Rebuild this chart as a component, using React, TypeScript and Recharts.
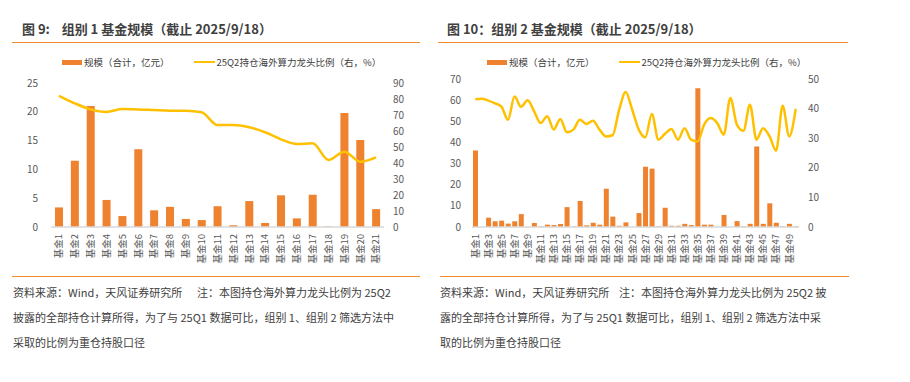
import { Bar, ComposedChart, Line, XAxis, YAxis } from 'recharts';

const ORANGE = '#EE822F';
const GOLD = '#FFC000';
const TEXT = '#404040';
const AXIS_TEXT = '#595959';
const RULE = '#F0892A';
const FONT = '"Noto Sans CJK SC", "Noto Sans", sans-serif';

const group1Funds = Array.from({ length: 21 }, (_, i) => `基金${i + 1}`);
const group1Scale = [
  3.4, 11.5, 21.0, 4.7, 1.9, 13.5, 2.9, 3.5, 1.4, 1.2, 3.6, 0.3, 4.5, 0.7, 5.5,
  1.5, 5.6, 0.1, 19.8, 15.1, 3.1,
];
const group1Ratio = [
  82, 77.3, 73.5, 71.9, 73.7, 73.5, 73.1, 72.7, 72.7, 71.7, 63.7, 63.7, 62.3,
  59.2, 54.8, 51.9, 52.3, 41.9, 47.1, 40.8, 43.5,
];

const group2Funds = Array.from({ length: 50 }, (_, i) => `基金${i + 1}`);
const group2Scale = [
  36.2, 0, 4.4, 2.7, 3.0, 1.6, 2.7, 6.1, 0, 1.9, 0.3, 1.1, 0.9, 1.4, 9.4, 0.2,
  12.3, 0.8, 2.0, 1.1, 18.1, 4.9, 0.6, 2.2, 0, 6.6, 28.5, 27.6, 0.3, 9.1, 0.6,
  0.6, 1.5, 0.9, 65.6, 1.1, 1.1, 0, 5.7, 0, 2.8, 0.3, 1.5, 38.1, 1.5, 11.2, 2.0,
  0.3, 1.5, 0.3,
];
const group2Ratio = [
  43.2, 43.3, 42.7, 41.8, 40.7, 36.2, 44.1, 40.6, 42.8, 39.1, 35.1, 37.4, 32.9,
  36.5, 32.0, 32.9, 36.2, 34.8, 35.9, 32.9, 30.6, 31.0, 39.6, 45.6, 39.6, 32.9,
  30.3, 38.2, 29.5, 31.5, 33.1, 29.5, 33.4, 29.5, 28.9, 34.6, 36.8, 35.1, 31.2,
  43.6, 34.6, 32.5, 41.3, 29.5, 33.4, 30.6, 25.8, 41.0, 30.6, 39.9,
];

const group1LeftTicks = [0, 5, 10, 15, 20, 25];
const group1RightTicks = [0, 10, 20, 30, 40, 50, 60, 70, 80, 90];
const group2LeftTicks = [0, 10, 20, 30, 40, 50, 60, 70];
const group2RightTicks = [0, 10, 20, 30, 40, 50];

const BAR_NAME = '规模（合计，亿元）';
const LINE_NAME = '25Q2持仓海外算力龙头比例（右，%）';

const group1Data = group1Funds.map((name, i) => ({
  name,
  scale: group1Scale[i],
  ratio: group1Ratio[i],
}));
const group2Data = group2Funds.map((name, i) => ({
  name,
  scale: group2Scale[i],
  ratio: group2Ratio[i],
}));

function FundTick({ x, y, payload }: any) {
  return (
    <g transform={`translate(${x},${y})`}>
      <text
        transform="rotate(-90)"
        textAnchor="end"
        dy="0.35em"
        fontSize={9.5}
        fill={AXIS_TEXT}
        fontFamily={FONT}
      >
        {payload.value}
      </text>
    </g>
  );
}

const tickStyle = { fontSize: 10, fill: AXIS_TEXT, fontFamily: FONT };

function LegendRow({ left, top, gap }: { left: number; top: number; gap: number }) {
  return (
    <div
      style={{
        position: 'absolute',
        left,
        top,
        display: 'flex',
        alignItems: 'center',
        fontSize: 9.5,
        color: TEXT,
        fontFamily: FONT,
        whiteSpace: 'nowrap',
      }}
    >
      <span style={{ width: 20, height: 5, background: ORANGE, marginRight: 2 }} />
      <span style={{ marginRight: gap }}>{BAR_NAME}</span>
      <span style={{ width: 21, height: 2.5, background: GOLD, marginRight: 2 }} />
      <span>{LINE_NAME}</span>
    </div>
  );
}

function Title({ left, text }: { left: number; text: string }) {
  return (
    <div
      style={{
        position: 'absolute',
        left,
        top: 20,
        fontSize: 13,
        fontWeight: 700,
        color: TEXT,
        fontFamily: FONT,
        whiteSpace: 'pre',
        lineHeight: '18px',
      }}
    >
      {text}
    </div>
  );
}

function Rule({ left, top, width }: { left: number; top: number; width: number }) {
  return (
    <div
      style={{
        position: 'absolute',
        left,
        top,
        width,
        height: 1.5,
        background: RULE,
      }}
    />
  );
}

function Notes({ left, lines }: { left: number; lines: string[] }) {
  return (
    <div
      style={{
        position: 'absolute',
        left,
        top: 280,
        fontSize: 11,
        color: TEXT,
        fontFamily: FONT,
        lineHeight: '25px',
        whiteSpace: 'pre',
      }}
    >
      {lines.map((line) => (
        <div key={line}>{line}</div>
      ))}
    </div>
  );
}

export default function App() {
  return (
    <div
      style={{
        position: 'absolute',
        left: 0,
        top: 0,
        width: 910,
        height: 382,
        background: '#fff',
        overflow: 'hidden',
      }}
    >
      <Title left={22} text={'图 9:    组别 1 基金规模（截止 2025/9/18）'} />
      <Rule left={12} top={41.5} width={408} />
      <Title left={447} text={'图 10：组别 2 基金规模（截止 2025/9/18）'} />
      <Rule left={438} top={41.5} width={410} />

      <LegendRow left={62} top={55} gap={24} />
      <LegendRow left={487} top={55} gap={24} />

      <div style={{ position: 'absolute', left: 0, top: 0 }}>
        <ComposedChart
          width={430}
          height={270}
          data={group1Data}
          margin={{ top: 83, right: 16, bottom: 5, left: 11 }}
        >
          <XAxis
            dataKey="name"
            interval={0}
            tickLine={false}
            tickSize={6}
            tickMargin={1}
            height={38}
            stroke="#D9D9D9"
            strokeWidth={1.5}
            tick={<FundTick />}
          />
          <YAxis
            yAxisId="left"
            domain={[0, 25]}
            ticks={group1LeftTicks}
            axisLine={false}
            tickLine={false}
            tickMargin={7}
            width={40}
            tick={tickStyle}
          />
          <YAxis
            yAxisId="right"
            orientation="right"
            domain={[0, 90]}
            ticks={group1RightTicks}
            axisLine={false}
            tickLine={false}
            tickMargin={3}
            width={30}
            tick={{ ...tickStyle, textAnchor: 'start' }}
          />
          <Bar
            yAxisId="left"
            dataKey="scale"
            name={BAR_NAME}
            fill={ORANGE}
            barSize={8}
            isAnimationActive={false}
          />
          <Line
            yAxisId="right"
            type="monotone"
            dataKey="ratio"
            name={LINE_NAME}
            stroke={GOLD}
            strokeWidth={2.5}
            dot={false}
            isAnimationActive={false}
          />
        </ComposedChart>
      </div>

      <div style={{ position: 'absolute', left: 430, top: 0 }}>
        <ComposedChart
          width={480}
          height={270}
          data={group2Data}
          margin={{ top: 79, right: 81, bottom: 5, left: 7 }}
          barCategoryGap={1}
        >
          <XAxis
            dataKey="name"
            interval={1}
            tickLine={false}
            tickSize={6}
            tickMargin={1}
            height={38}
            stroke="#D9D9D9"
            strokeWidth={1.5}
            tick={<FundTick />}
          />
          <YAxis
            yAxisId="left"
            domain={[0, 70]}
            ticks={group2LeftTicks}
            axisLine={false}
            tickLine={false}
            tickMargin={5}
            width={35}
            tick={tickStyle}
          />
          <YAxis
            yAxisId="right"
            orientation="right"
            domain={[0, 50]}
            ticks={group2RightTicks}
            axisLine={false}
            tickLine={false}
            tickMargin={3}
            width={30}
            tick={{ ...tickStyle, textAnchor: 'start' }}
          />
          <Bar
            yAxisId="left"
            dataKey="scale"
            name={BAR_NAME}
            fill={ORANGE}
            barSize={5}
            isAnimationActive={false}
          />
          <Line
            yAxisId="right"
            type="monotone"
            dataKey="ratio"
            name={LINE_NAME}
            stroke={GOLD}
            strokeWidth={2.5}
            dot={false}
            isAnimationActive={false}
          />
        </ComposedChart>
      </div>

      <Rule left={12} top={275.5} width={408} />
      <Rule left={440} top={275.5} width={409} />
      <Notes
        left={13}
        lines={[
          '资料来源：Wind，天风证券研究所      注：本图持仓海外算力龙头比例为 25Q2',
          '披露的全部持仓计算所得，为了与 25Q1 数据可比，组别 1、组别 2 筛选方法中',
          '采取的比例为重仓持股口径',
        ]}
      />
      <Notes
        left={440}
        lines={[
          '资料来源：Wind，天风证券研究所    注：本图持仓海外算力龙头比例为 25Q2 披',
          '露的全部持仓计算所得，为了与 25Q1 数据可比，组别 1、组别 2 筛选方法中采',
          '取的比例为重仓持股口径',
        ]}
      />
    </div>
  );
}
